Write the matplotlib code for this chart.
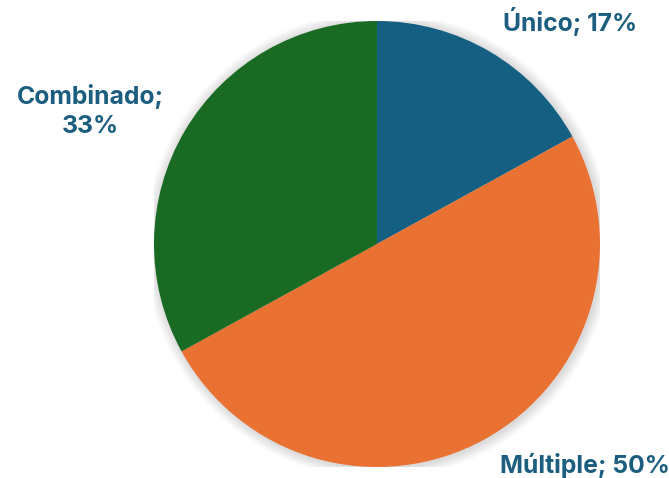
import matplotlib
matplotlib.use("Agg")
import matplotlib.pyplot as plt
from matplotlib.patches import Circle

categories = ["Único", "Múltiple", "Combinado"]
values = [17, 50, 33]
colors = ["#156082", "#E97132", "#196B24"]
label_color = "#1B5E80"

W, H = 669, 478
fig = plt.figure(figsize=(W / 100, H / 100), dpi=100)
cx, cy, r = 377, 244, 223
ax = fig.add_axes([(cx - r) / W, (H - cy - r) / H, 2 * r / W, 2 * r / H])
ax.set_xlim(-1, 1)
ax.set_ylim(-1, 1)
ax.set_aspect("equal")
ax.axis("off")

# soft shadow
for i in range(12):
    ax.add_patch(Circle((0.006, -0.004), 1 + 0.004 * (12 - i), color="black",
                        alpha=0.012, zorder=0, lw=0))

ax.pie(values, colors=colors, startangle=90, counterclock=False, radius=1,
       wedgeprops=dict(linewidth=0))
ax.set_xlim(-1, 1)
ax.set_ylim(-1, 1)

font = dict(family=["Inter", "DejaVu Sans"], weight="bold", color=label_color, fontsize=17.8)
fig.text(570 / W, 1 - 22 / H, f"{categories[0]}; {values[0]}%", ha="center", va="center", **font)
fig.text(585 / W, 1 - 465 / H, f"{categories[1]}; {values[1]}%", ha="center", va="center", **font)
fig.text(90 / W, 1 - 111 / H, f"{categories[2]};\n{values[2]}%", ha="center", va="center",
         linespacing=1.3, **font)

fig.savefig("out.png", dpi=100)
